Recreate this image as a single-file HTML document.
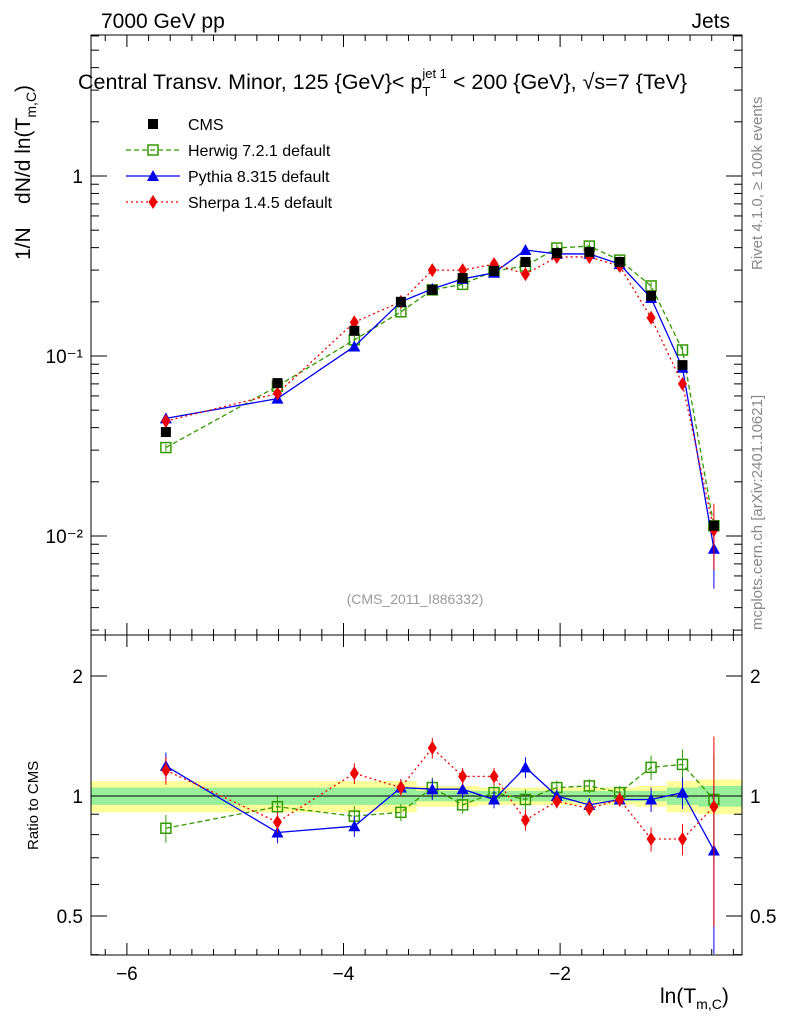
<!DOCTYPE html>
<html><head><meta charset="utf-8"><style>
body{margin:0;background:#fff;}
svg{display:block;font-family:"Liberation Sans",sans-serif;}
</style></head><body>
<svg id="c" width="786" height="1024" xmlns="http://www.w3.org/2000/svg"></svg>
<script>
const xs=[-5.64,-4.61,-3.90,-3.47,-3.18,-2.90,-2.61,-2.32,-2.03,-1.73,-1.45,-1.16,-0.87,-0.58];
const cms=[0.0378,0.0707,0.138,0.2,0.233,0.271,0.297,0.333,0.373,0.378,0.333,0.216,0.089,0.0114];
const herwig=[0.031,0.068,0.123,0.176,0.233,0.25,0.297,0.316,0.398,0.408,0.341,0.245,0.108,0.0114];
const pythia=[0.045,0.058,0.113,0.2,0.236,0.268,0.29,0.388,0.369,0.369,0.324,0.21,0.086,0.0085];
const sherpa=[0.0435,0.062,0.154,0.2,0.3,0.3,0.324,0.285,0.355,0.355,0.316,0.163,0.07,0.0108];
const rHerwig=[0.83,0.94,0.89,0.91,1.05,0.95,1.02,0.98,1.05,1.06,1.02,1.18,1.2,0.98];
const rPythia=[1.19,0.81,0.84,1.05,1.04,1.04,0.98,1.18,1.0,0.95,0.98,0.98,1.02,0.73];
const rSherpa=[1.16,0.86,1.14,1.05,1.32,1.12,1.12,0.87,0.97,0.93,0.98,0.78,0.78,0.94];
const rErr=[0.08,0.06,0.06,0.05,0.06,0.05,0.05,0.06,0.04,0.04,0.04,0.07,0.09,0.3];
const bandY=[0.09,0.09,0.09,0.09,0.06,0.06,0.05,0.05,0.05,0.05,0.05,0.06,0.09,0.1];
const bandG=[0.05,0.05,0.05,0.05,0.03,0.03,0.03,0.03,0.03,0.03,0.03,0.03,0.05,0.06];
const xTicks=[-6,-4,-2];
const yMain=[{v:1,t:"1"},{v:0.1,t:"10\u207B\u00B9"},{v:0.01,t:"10\u207B\u00B2"}];
const yRatio=[0.5,1,2];

const svg=document.getElementById('c');const NS="http://www.w3.org/2000/svg";
function el(tag,a,p){const e=document.createElementNS(NS,tag);for(const k in a)e.setAttribute(k,a[k]);(p||svg).appendChild(e);return e;}
const L=91,R=742,MT=35,MB=635,RB=955;
const X=v=>776.7+108.3*v;
const Y=v=>176-180*Math.log10(v);
const YR=v=>796-398.7*Math.log10(v);
const binEdges=xs.map((v,i)=>i==0?v-0.35:(v+xs[i-1])/2);binEdges.push(-0.32);

const gb=el('g',{});
xs.forEach((v,i)=>{
 const x0=i==0?L:X(binEdges[i]),x1=i==xs.length-1?X(-0.32):X(binEdges[i+1]);
 const r=el('rect',{x:x0,y:YR(1+bandY[i]),width:x1-x0,height:YR(1-bandY[i])-YR(1+bandY[i]),fill:'#ffff99'},gb);
 
 const g=el('rect',{x:x0,y:YR(1+bandG[i]),width:x1-x0,height:YR(1-bandG[i])-YR(1+bandG[i]),fill:'#99ee99'},gb);
 
});
el('line',{x1:L,x2:R,y1:YR(1),y2:YR(1),stroke:'#000'});

const f1=el('rect',{x:L,y:MT,width:R-L,height:MB-MT,fill:'none',stroke:'#000'});

const f2=el('rect',{x:L,y:MB,width:R-L,height:RB-MB,fill:'none',stroke:'#000'});


for(let v=-6.2;v<=-0.3;v+=0.2){const x=X(Math.round(v*10)/10);if(x<L||x>R)continue;
 const major=Math.abs(Math.round(v*10)%10)==0&&Math.round(v*10)%20==0;const l=major?12:6;
 [MB,RB].forEach(b=>{el('line',{x1:x,x2:x,y1:b,y2:b-l,stroke:'#000'});});
 [MT,MB].forEach(t=>{el('line',{x1:x,x2:x,y1:t,y2:t+l,stroke:'#000'});});}
xTicks.forEach(v=>{const t=el('text',{x:X(v),y:980,'font-size':19,'text-anchor':'middle'});t.textContent='\u2212'+Math.abs(v);
 });
for(let d=-3;d<=0;d++)for(let m=1;m<10;m++){const v=m*Math.pow(10,d);const y=Y(v);if(y<MT||y>MB)continue;const l=m==1?16:8;
 el('line',{x1:L,x2:L+l,y1:y,y2:y,stroke:'#000'});el('line',{x1:R,x2:R-l,y1:y,y2:y,stroke:'#000'});}
yMain.forEach(o=>{const t=el('text',{x:83,y:Y(o.v)+7,'font-size':19,'text-anchor':'end'});t.textContent=o.t;
 });
[0.4,0.5,0.6,0.7,0.8,0.9,1,2].forEach(v=>{const y=YR(v);const l=(v==0.5||v==1||v==2)?16:8;
 el('line',{x1:L,x2:L+l,y1:y,y2:y,stroke:'#000'});el('line',{x1:R,x2:R-l,y1:y,y2:y,stroke:'#000'});});
yRatio.forEach(v=>{[[83,'end'],[750,'start']].forEach(([x,a])=>{const t=el('text',{x:x,y:YR(v)+7,'font-size':19,'text-anchor':a});t.textContent=String(v);
 });});

function marker(g,type,x,y,col){
 if(type=='sq')el('rect',{x:x-5,y:y-5,width:10,height:10,fill:col},g);
 else if(type=='osq')el('rect',{x:x-5,y:y-5,width:10,height:10,fill:'none',stroke:col,'stroke-width':1.5},g);
 else if(type=='tri')el('polygon',{points:`${x},${y-6} ${x-6},${y+5} ${x+6},${y+5}`,fill:col},g);
 else el('polygon',{points:`${x},${y-7} ${x-4.5},${y} ${x},${y+7} ${x+4.5},${y}`,fill:col},g);}
function series(name,vals,yf,col,dash,type,err){
 const g=el('g',{});
 if(dash!==null){el('polyline',{points:xs.map((x,i)=>X(x)+','+yf(vals[i])).join(' '),fill:'none',stroke:col,'stroke-width':1.3,'stroke-dasharray':dash},g);}
 xs.forEach((x,i)=>{const e=err?err[i]:0.05;
  el('line',{x1:X(x),x2:X(x),y1:yf(vals[i]*(1+e)),y2:yf(vals[i]*(1-e)),stroke:col},g);
  marker(g,type,X(x),yf(vals[i]),col);});}
series('herwig-series',herwig,Y,'#339900','5,3','osq');
series('pythia-series',pythia,Y,'#0000ee','','tri',xs.map((x,i)=>i==13?0.4:0.05));
series('sherpa-series',sherpa,Y,'#ee0000','2,3','dia',xs.map((x,i)=>i==13?0.4:0.05));
series('cms-series',cms,Y,'#000',null,'sq',xs.map(()=>0.03));
series('herwig-ratio',rHerwig,YR,'#339900','5,3','osq',rErr);
series('pythia-ratio',rPythia,YR,'#0000ee','','tri',rErr.map((e,i)=>i==13?0.45:e));
series('sherpa-ratio',rSherpa,YR,'#ee0000','2,3','dia',rErr.map((e,i)=>i==13?0.5:e));

const lg=el('g',{});
[['CMS','#000',null,'sq'],['Herwig 7.2.1 default','#339900','5,3','osq'],['Pythia 8.315 default','#0000ee','','tri'],['Sherpa 1.4.5 default','#ee0000','2,3','dia']].forEach((d,i)=>{
 const y=124+26*i;const e=el('g',{},lg);
 if(d[2]!==null)el('line',{x1:126,x2:180,y1:y,y2:y,stroke:d[1],'stroke-width':1.3,'stroke-dasharray':d[2]},e);
 marker(e,d[3],153,y,d[1]);
 const t=el('text',{x:188,y:y+6,'font-size':16},e);t.textContent=d[0];});

function txt(s,a,name){const t=el('text',a);t.innerHTML=s;return t;}
txt('7000 GeV pp',{x:101,y:28,'font-size':21},'beam-label');
txt('Jets',{x:730,y:28,'font-size':21,'text-anchor':'end'},'process-label');
txt('Central Transv. Minor, 125 {GeV}&lt; p<tspan font-size="13" dy="7">T</tspan><tspan font-size="13" dy="-18" dx="-8">jet 1</tspan><tspan dy="11"> &lt; 200 {GeV}, √s=7 {TeV}</tspan>',{x:78,y:89,'font-size':21.5},'plot-title');
txt('(CMS_2011_I886332)',{x:415,y:604,'font-size':14,fill:'#999','text-anchor':'middle'},'analysis-id');
txt('1/N &#160;&#160; dN/d ln(T<tspan font-size="14" dy="6">m,C</tspan><tspan dy="-6">)</tspan>',{x:0,y:0,'font-size':21,transform:'translate(30,260) rotate(-90)'},'y-axis-title');
txt('Ratio to CMS',{x:0,y:0,'font-size':15,transform:'translate(38,850) rotate(-90)'},'ratio-axis-title');
txt('ln(T<tspan font-size="14" dy="6">m,C</tspan><tspan dy="-6">)</tspan>',{x:660,y:1003,'font-size':21},'x-axis-title');
txt('Rivet 4.1.0, ≥ 100k events',{x:0,y:0,'font-size':15,fill:'#888',transform:'translate(762,270) rotate(-90)'},'rivet-label');
txt('mcplots.cern.ch [arXiv:2401.10621]',{x:0,y:0,'font-size':15,fill:'#888',transform:'translate(762,630) rotate(-90)'},'mcplots-label');
</script>
</body></html>
